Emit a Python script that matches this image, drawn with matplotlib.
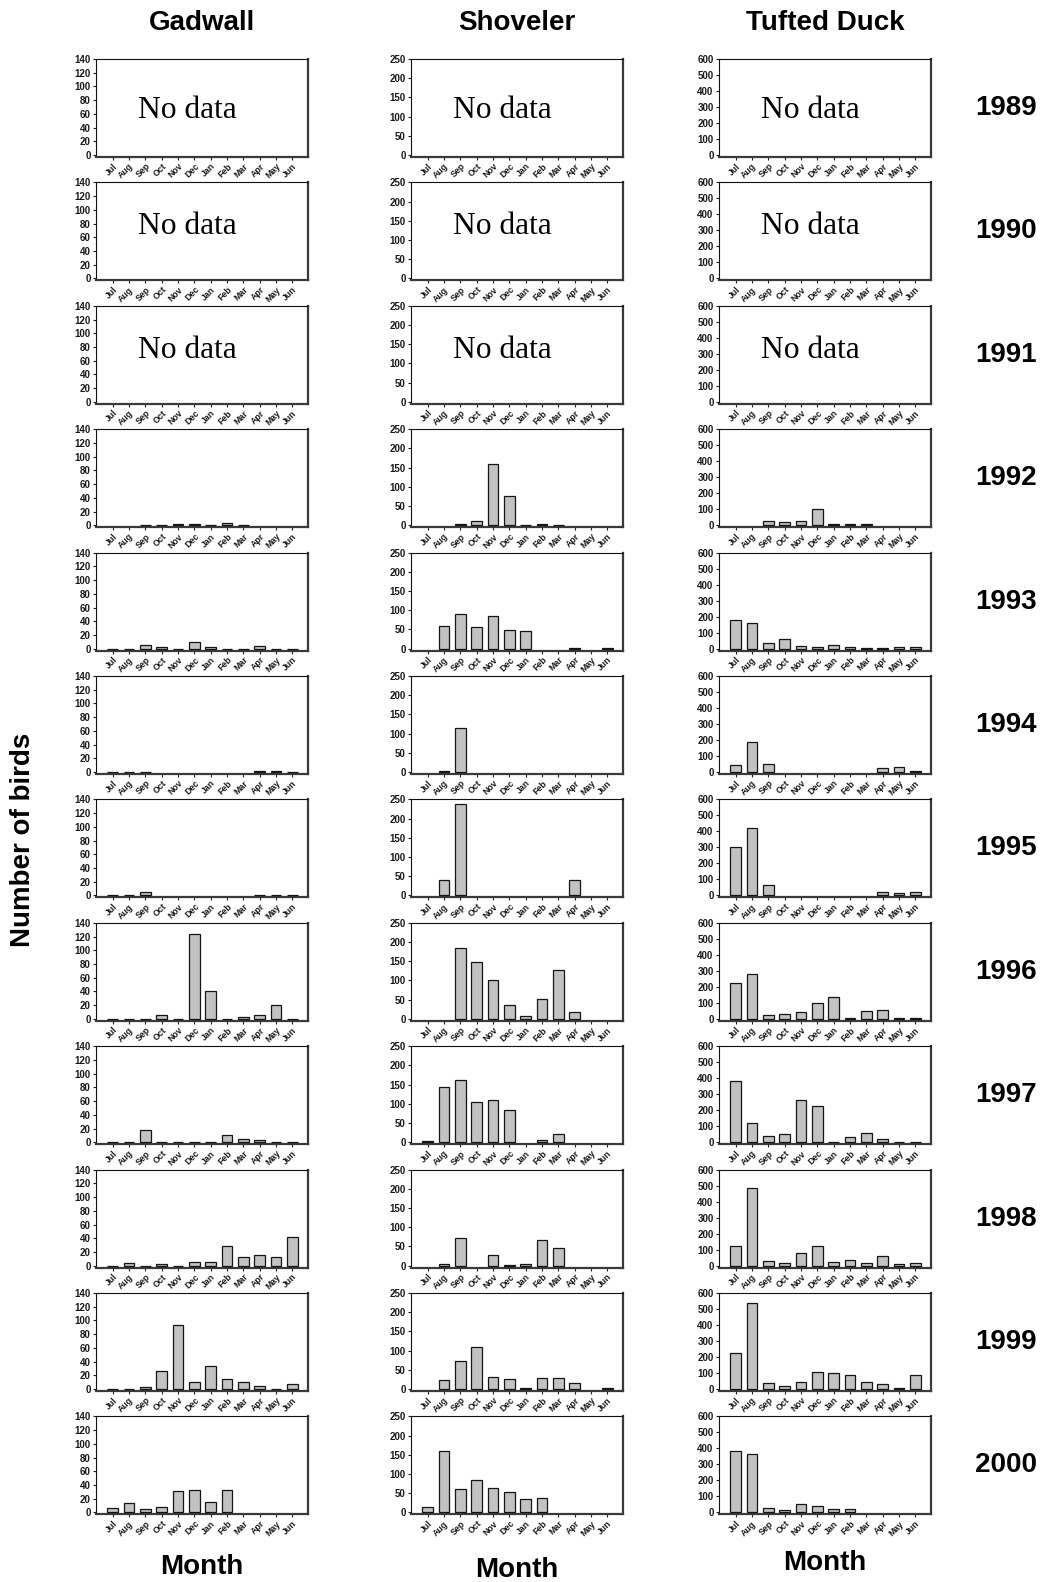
import numpy as np
import matplotlib
matplotlib.use("Agg")
import matplotlib.pyplot as plt
from matplotlib.patches import Rectangle

plt.rcParams['font.family'] = ['Liberation Sans', 'DejaVu Sans']

N = None

months = ['Jul', 'Aug', 'Sep', 'Oct', 'Nov', 'Dec',
          'Jan', 'Feb', 'Mar', 'Apr', 'May', 'Jun']
years = [1989, 1990, 1991, 1992, 1993, 1994,
         1995, 1996, 1997, 1998, 1999, 2000]
species = ['Gadwall', 'Shoveler', 'Tufted Duck']
y_max = [140, 250, 600]
y_step = [20, 50, 100]

# Monthly counts per season (Jul..Jun); None = not counted, whole row None = no data
gadwall = [
    None, None, None,
    [N, N, 1, 1, 2, 1.5, 1, 4, 1, N, N, N],
    [0, 0, 6, 3, 0, 10, 2, 0, 0, 4, 0, 0],
    [0, 0, 0, N, N, N, N, N, N, 2, 2, 0],
    [0, 0, 5, N, N, N, N, N, N, 0, 0, 0],
    [0, 0, 0, 5, 0, 124, 41, 0, 3, 6, 20, 0],
    [0, 0, 18, 0, 1, 0, 0, 10, 5, 3, 0, 0],
    [0, 4, 0, 2, 0, 6, 6, 28, 12, 15, 12, 42],
    [0, 0, 3, 27, 94, 10, 33, 14, 11, 5, 0, 8],
    [7, 14, 5, 8, 32, 33, 15, 33, N, N, N, N],
]

shoveler = [
    None, None, None,
    [N, N, 3, 10, 160, 76, 2, 3, 2, N, N, N],
    [N, 60, 90, 57, 84, 49, 45, N, N, 2, N, 3],
    [N, 4, 115, N, N, N, N, N, N, N, N, N],
    [N, 40, 237, N, N, N, N, N, N, 39, N, N],
    [N, N, 185, 148, 101, 35, 7, 53, 127, 18, N, N],
    [4, 143, 161, 106, 109, 85, N, 7, 21, N, N, N],
    [N, 4, 73, N, 28, 3, 5, 66, 47, N, N, N],
    [N, 24, 74, 110, 32, 26, 4, 29, 28, 15, N, 2],
    [13, 159, 60, 84, 64, 54, 35, 37, N, N, N, N],
]

tufted_duck = [
    None, None, None,
    [N, N, 28, 18, 25, 100, 10, 10, 10, N, N, N],
    [180, 160, 35, 62, 15, 12, 22, 12, 3, 5, 13, 13],
    [45, 186, 48, N, N, N, N, N, N, 28, 33, 5],
    [300, 421, 65, N, N, N, N, N, N, 20, 18, 22],
    [222, 281, 22, 33, 45, 101, 138, 4, 50, 53, 4, 4],
    [381, 123, 39, 50, 262, 225, 2, 30, 58, 20, 4, 4],
    [120, 485, 30, 15, 78, 126, 22, 38, 14, 62, 8, 18],
    [223, 540, 37, 18, 45, 108, 100, 85, 45, 32, 6, 85],
    [381, 364, 30, 14, 52, 42, 21, 22, N, N, N, N],
]

all_counts = [gadwall, shoveler, tufted_duck]

W, H = 1045, 1582
fig = plt.figure(figsize=(W / 100, H / 100), dpi=100)

col_left = [96, 411, 719]
panel_w = 212
panel_h = 98
first_top = 59
row_step = 123.4

x = np.arange(len(months))

for c in range(3):
    for r, yr in enumerate(years):
        top = first_top + r * row_step
        ax = fig.add_axes([col_left[c] / W, 1 - (top + panel_h) / H,
                           panel_w / W, panel_h / H])
        ymax = y_max[c]
        ax.set_xlim(-1.02, 11.95)
        ax.set_ylim(-0.02 * ymax, ymax)
        ax.set_yticks(np.arange(0, ymax + 1, y_step[c]))
        ax.set_xticks(x)
        ax.set_xticklabels(months, rotation=45, ha='right',
                           rotation_mode='anchor', fontsize=6.3,
                           fontweight='bold', color='#1a1a1a')
        for lab in ax.get_yticklabels():
            lab.set_fontsize(7)
            lab.set_fontweight('bold')
            lab.set_color('#1a1a1a')
        ax.tick_params(axis='both', direction='out', length=2.4,
                       width=0.8, color='#222222', pad=1.5)
        ax.tick_params(axis='x', pad=1.0)
        for side in ('left', 'top'):
            ax.spines[side].set_linewidth(0.8)
            ax.spines[side].set_color('#111111')
        for side in ('right', 'bottom'):
            ax.spines[side].set_linewidth(1.6)
            ax.spines[side].set_color('#3a3a3a')

        vals = all_counts[c][r]
        if vals is None:
            base = 0.40 if r == 0 else 0.47
            t = ax.text(0.20, base, 'No data', transform=ax.transAxes,
                        fontsize=22.7, family=['Liberation Serif', 'DejaVu Serif'],
                        va='baseline', ha='left')
            if r == 0:
                clip = Rectangle((0, 0.41), 1, 0.59, transform=ax.transAxes,
                                 facecolor='none', edgecolor='none')
                t.set_clip_path(clip)
        else:
            arr = np.array([np.nan if v is None else v for v in vals], dtype=float)
            m = ~np.isnan(arr)
            ax.bar(x[m], arr[m], width=0.65, color='#c2c2c2',
                   edgecolor='#151515', linewidth=0.9, zorder=3)

# Column titles
for c, name in enumerate(species):
    cx = (col_left[c] + panel_w / 2) / W
    fig.text(cx, 1 - 23 / H, name, ha='center', va='center',
             fontsize=20, fontweight='bold')

# Season labels on the right
for r, yr in enumerate(years):
    cy = first_top + r * row_step + panel_h / 2
    fig.text(1006 / W, 1 - cy / H, str(yr), ha='center', va='center',
             fontsize=20, fontweight='bold')

# Axis labels
month_y = [1567, 1570, 1563]
for c in range(3):
    cx = (col_left[c] + panel_w / 2) / W
    fig.text(cx, 1 - month_y[c] / H, 'Month', ha='center', va='center',
             fontsize=20, fontweight='bold')

fig.text(23 / W, 1 - 840 / H, 'Number of birds', rotation=90,
         ha='center', va='center', fontsize=20, fontweight='bold')

fig.savefig('out.png', dpi=100, facecolor='white')
